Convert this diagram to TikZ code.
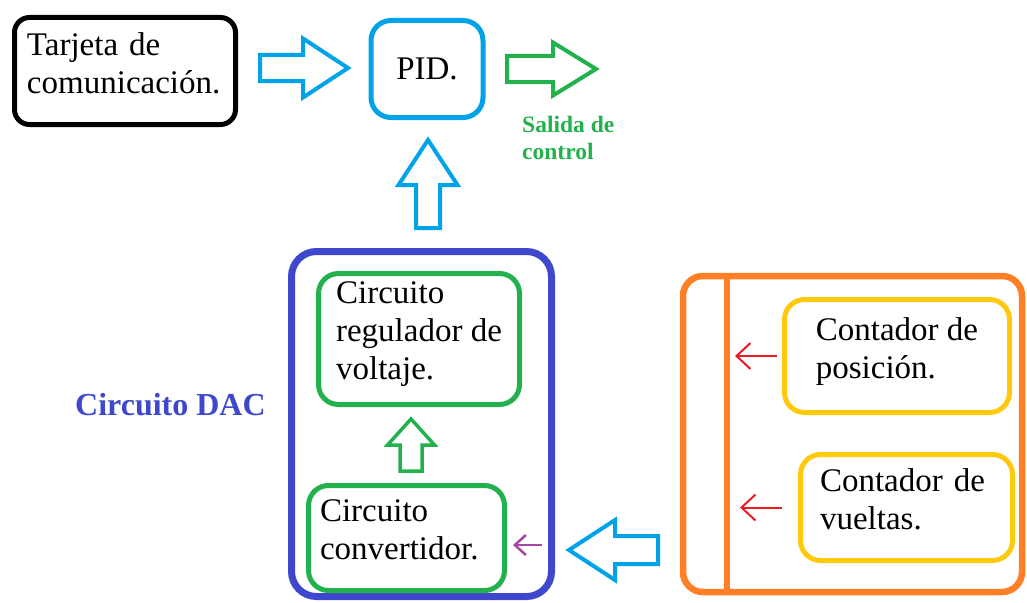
\documentclass[tikz,border=0pt]{standalone}
\usepackage{fontspec}
\setmainfont{Liberation Serif}
\usetikzlibrary{arrows.meta}
\definecolor{celeste}{RGB}{0,162,232}
\definecolor{verde}{RGB}{34,177,76}
\definecolor{indigo}{RGB}{63,72,204}
\definecolor{naranja}{RGB}{255,127,39}
\definecolor{amarillo}{RGB}{255,201,14}
\definecolor{rojo}{RGB}{237,28,36}
\definecolor{morado}{RGB}{163,73,164}

\begin{document}
\begin{tikzpicture}[
    x=1pt, y=-1pt,
    caja/.style     = {draw, rounded corners=20pt, line width=5pt, align=left,
                       font=\fontsize{33}{38}\selectfont, text depth=54pt, inner sep=0pt},
    flecha/.style   = {line width=4pt},
    flechita/.style = {line width=2pt, -{Straight Barb[length=14pt,width=26pt]}},
    % flecha hueca: punta en el origen, apunta a la derecha
    pics/bloque/.style n args={4}{code={
        \draw[pic actions] (0,0) -- (-#1,-#2) -- (-#1,-#3) -- (-#4,-#3)
          -- (-#4,#3) -- (-#1,#3) -- (-#1,#2) -- cycle;
      }},
  ]
  \useasboundingbox (0,0) rectangle (1027,602);
  % Tarjeta y PID
  \node[caja, minimum width=221pt, minimum height=107pt, text width=196pt,
        rounded corners=15pt] (tarjeta) at (125,71) {Tarjeta de\\comunicación.};
  \node[caja, draw=celeste, minimum width=112pt, minimum height=97pt,
        text depth=0pt] (pid) at (427,69) {PID.};
  \node[anchor=north west, align=left, inner sep=0pt, text=verde,
        font=\bfseries\fontsize{23.5}{27}\selectfont] (salida) at (522,116) {Salida de\\control};
  % Flechas gruesas
  \pic[flecha, draw=celeste] (fEntrada) at (348,68) {bloque={45}{29.5}{13}{88}};
  \pic[flecha, draw=verde] (fSalida) at (596,69) {bloque={43}{26.5}{13}{89}};
  \pic[flecha, draw=celeste, rotate=90] (fSube) at (428,140) {bloque={45}{29.5}{12}{88}};
  \pic[flecha, draw=celeste, rotate=180] (fEntra) at (569,550) {bloque={46}{30}{14}{89}};
  % Circuito DAC
  \node[draw=indigo, line width=7pt, rounded corners=25pt,
        minimum width=260pt, minimum height=345pt] (dac) at (421.5,424) {};
  \node[anchor=base west, inner sep=0pt, text=indigo,
        font=\bfseries\fontsize{32}{38}\selectfont] (dacTxt) at (75,415) {Circuito DAC};
  \node[caja, draw=verde, minimum width=201pt, minimum height=131pt,
        text depth=16pt] (regulador) at (419,339) {Circuito\\regulador de\\voltaje.};
  \node[caja, draw=verde, minimum width=196pt, minimum height=105pt,
        text width=173pt] (conv) at (406.5,538) {Circuito\\convertidor.};
  \pic[flecha, draw=verde, line width=3.5pt, rotate=90] (fConv) at (411,419) {bloque={26}{23.5}{11}{52}};
  \coordinate (pm) at ([yshift=-7pt]conv.east);
  \draw[flechita, morado, line width=2.5pt, shorten <=13pt, shorten >=6pt,
        -{Straight Barb[length=11pt,width=20pt]}] (pm -| dac.east) -- (pm);
  % Contadores
  \node[draw=naranja, line width=6.5pt, rounded corners=20pt,
        minimum width=339pt, minimum height=316pt] (contadores) at (852.5,434) {};
  \coordinate (barra) at (727,434);
  \draw[naranja, line width=6.5pt] (barra |- contadores.north) -- (barra |- contadores.south);
  \node[caja, draw=amarillo, minimum width=225pt, minimum height=113pt,
        text depth=16pt] (posicion) at (897,356) {Contador de\\posición.};
  \node[caja, draw=amarillo, minimum width=212pt, minimum height=106pt,
        text width=173pt] (vueltas) at (906.5,507.5) {Contador de\\vueltas.};
  \draw[flechita, rojo, shorten <=5pt, shorten >=8pt] (posicion.west) -- (posicion.west -| barra);
  \draw[flechita, rojo, shorten <=16pt, shorten >=13pt] (vueltas.west) -- (vueltas.west -| barra);
\end{tikzpicture}
\end{document}
